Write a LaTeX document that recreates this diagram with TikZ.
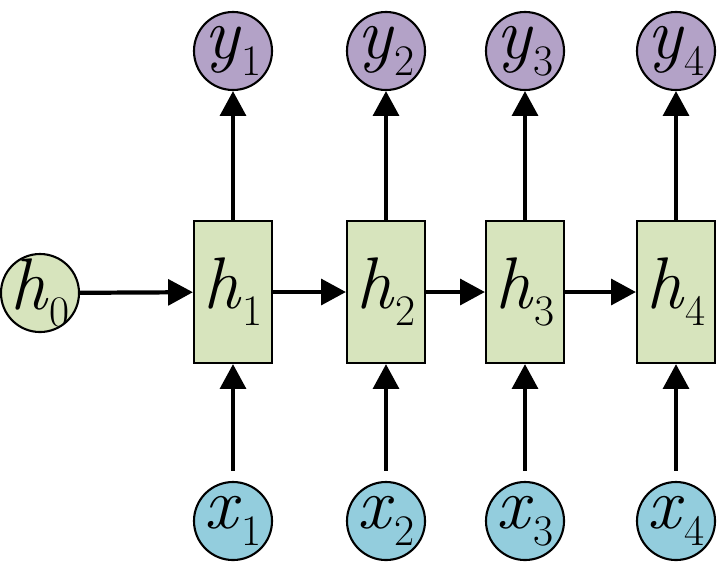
\documentclass[tikz,border=0pt]{standalone}
\usepackage{xcolor}
\usepackage{tikz}
\usetikzlibrary{arrows.meta}

\definecolor{stategreen}{HTML}{D7E4BD}
\definecolor{outpurple}{HTML}{B3A2C7}
\definecolor{inblue}{HTML}{93CDDD}
\newcommand{\rnnvar}[2]{\textit{#1}\kern0.01em\raisebox{-12pt}{\fontsize{31}{31}\selectfont #2}}

\begin{document}
\begin{tikzpicture}[x=0.025cm, y=-0.025cm,
        hbox/.style={rectangle, draw=black, line width=1.5pt, fill=stategreen, minimum width=1.95cm, minimum height=3.55cm, inner sep=0pt, font=\fontsize{52}{52}\selectfont},
        circ/.style={circle, draw=black, line width=1.5pt, minimum size=1.95cm, inner sep=-10pt, font=\fontsize{52}{52}\selectfont},
        arr/.style={line width=3pt, -{Triangle[length=0.62cm, width=0.64cm]}}
    ]
    \useasboundingbox (0,0) rectangle (720,567);

    \node[circ, fill=stategreen] (h0) at (40,293) {\rnnvar{h}{0}};
    \node[hbox] (h1) at (233,292) {\rnnvar{h}{1}};
    \node[hbox] (h2) at (386,292) {\rnnvar{h}{2}};
    \node[hbox] (h3) at (525,292) {\rnnvar{h}{3}};
    \node[hbox] (h4) at (676,292) {\rnnvar{h}{4}};

    \node[circ, fill=outpurple] (y1) at (233,51) {\rnnvar{y}{1}};
    \node[circ, fill=outpurple] (y2) at (386,51) {\rnnvar{y}{2}};
    \node[circ, fill=outpurple] (y3) at (525,51) {\rnnvar{y}{3}};
    \node[circ, fill=outpurple] (y4) at (676,51) {\rnnvar{y}{4}};

    \node[circ, fill=inblue] (x1) at (233,521) {\rnnvar{x}{1}};
    \node[circ, fill=inblue] (x2) at (386,521) {\rnnvar{x}{2}};
    \node[circ, fill=inblue] (x3) at (525,521) {\rnnvar{x}{3}};
    \node[circ, fill=inblue] (x4) at (676,521) {\rnnvar{x}{4}};

    \draw[arr] (h0) -- (h1);
    \draw[arr] (h1) -- (h2);
    \draw[arr] (h2) -- (h3);
    \draw[arr] (h3) -- (h4);

    \draw[arr] (h1) -- (y1);
    \draw[arr] (h2) -- (y2);
    \draw[arr] (h3) -- (y3);
    \draw[arr] (h4) -- (y4);

    \draw[arr, shorten <=0.25cm] (x1) -- (h1);
    \draw[arr, shorten <=0.25cm] (x2) -- (h2);
    \draw[arr, shorten <=0.25cm] (x3) -- (h3);
    \draw[arr, shorten <=0.25cm] (x4) -- (h4);
\end{tikzpicture}
\end{document}
